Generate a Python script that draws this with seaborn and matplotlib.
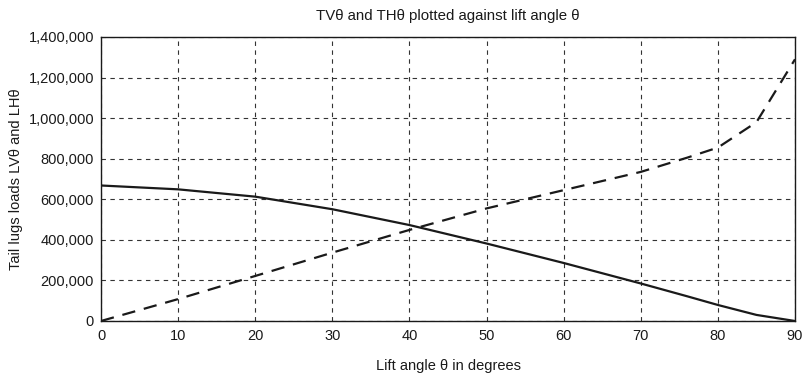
import matplotlib
matplotlib.use("Agg")
import matplotlib.pyplot as plt
from matplotlib.ticker import FuncFormatter
import pandas as pd
import seaborn as sns

# Lift angle (degrees) and lug loads
theta = [0, 10, 20, 30, 40, 50, 60, 70, 76, 80, 85, 90]
lv_load = [668000, 649000, 613000, 551000, 473000, 382000, 286000, 185000, 122000, 79000, 30000, 0]
lh_load = [0, 108000, 222000, 337000, 449000, 555000, 645000, 735000, 805000, 855000, 980000, 1290000]

df = pd.DataFrame({"theta": theta, "LV": lv_load, "LH": lh_load})

sns.set_theme(style="white")
plt.rcParams["font.family"] = ["Liberation Sans", "DejaVu Sans"]

fig = plt.figure(figsize=(8.05, 3.78), dpi=100)
ax = fig.add_axes([101 / 805, 1 - 321 / 378, 694 / 805, 284 / 378])

sns.lineplot(data=df, x="theta", y="LV", ax=ax, color="#1a1a1a", linewidth=1.6)
sns.lineplot(data=df, x="theta", y="LH", ax=ax, color="#1a1a1a", linewidth=1.6,
             linestyle=(0, (6, 4)))

ax.set_xlim(0, 90)
ax.set_ylim(0, 1400000)
ax.set_xticks(range(0, 91, 10))
ax.set_yticks(range(0, 1400001, 200000))
ax.yaxis.set_major_formatter(FuncFormatter(lambda v, p: f"{int(v):,}"))

ax.grid(True, color="#333333", linestyle=(0, (4, 4)), linewidth=0.8)
for s in ax.spines.values():
    s.set_color("#1a1a1a")
    s.set_linewidth(1.0)

ax.tick_params(axis="both", labelsize=10.5, colors="#1a1a1a", length=0)
ax.tick_params(axis="x", pad=6)
ax.tick_params(axis="y", pad=5)
ax.set_xlabel("Lift angle θ in degrees", fontsize=10.5, color="#1a1a1a", labelpad=11)
ax.set_ylabel("Tail lugs loads LVθ and LHθ", fontsize=10.5, color="#1a1a1a", labelpad=4)
ax.set_title("TVθ and THθ plotted against lift angle θ", fontsize=10.8,
             color="#1a1a1a", pad=12)

fig.savefig("out.png", dpi=100)
